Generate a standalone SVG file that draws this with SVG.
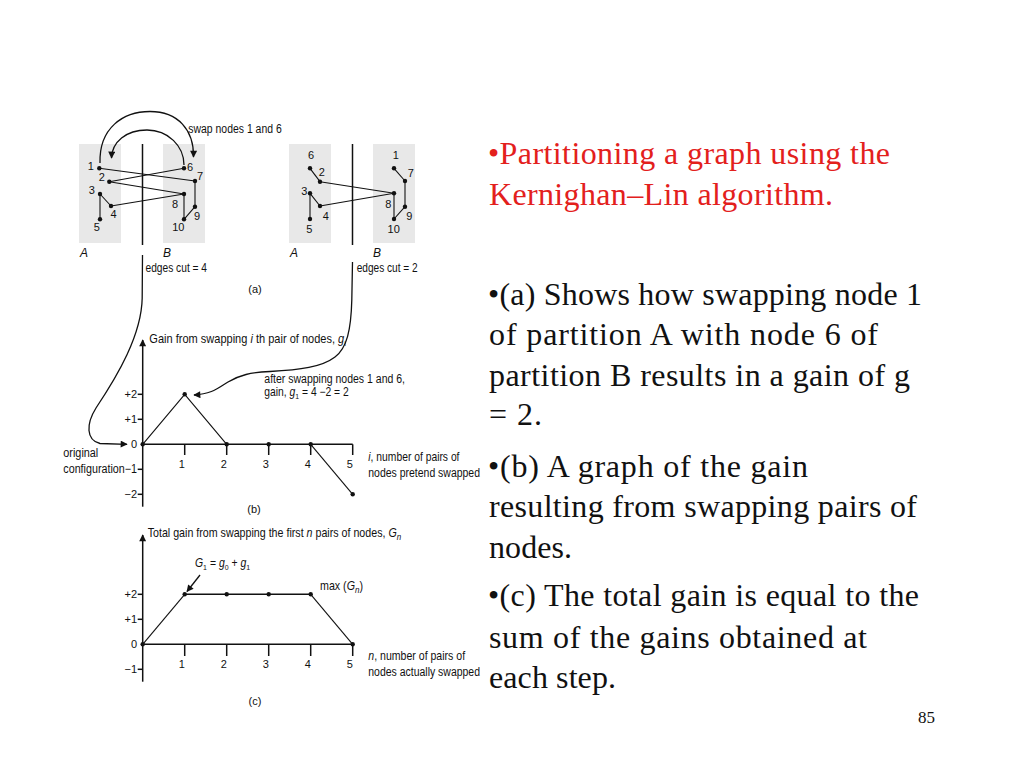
<svg xmlns="http://www.w3.org/2000/svg" width="1024" height="768" viewBox="0 0 1024 768">
<defs>
<style>
.lbl{font-family:"Liberation Sans",Arial,sans-serif;font-size:12px;fill:#111}
.num{font-family:"Liberation Sans",Arial,sans-serif;font-size:11px;fill:#111;text-anchor:middle}
.tk{font-family:"Liberation Sans",Arial,sans-serif;font-size:11px;fill:#111;text-anchor:end}
.ax{stroke:#111;stroke-width:1.5;fill:none}
.ln{stroke:#111;stroke-width:1.1;fill:none}
.cv{stroke:#111;stroke-width:1.3;fill:none}
.dot{fill:#111}
.part{fill:#e8e8e8}
.body{font-family:"Liberation Serif","Times New Roman",serif;font-size:32px;fill:#111}
.red{fill:#e3201c}
</style>
<marker id="ah" viewBox="0 0 10 10" refX="9" refY="5" markerWidth="9" markerHeight="7" orient="auto" markerUnits="userSpaceOnUse"><path d="M0,0 L10,5 L0,10 z" fill="#111"/></marker>
<marker id="ahL" viewBox="0 0 10 10" refX="9" refY="5" markerWidth="10" markerHeight="7" orient="auto" markerUnits="userSpaceOnUse"><path d="M0,0 L10,5 L0,10 z" fill="#111"/></marker>
</defs>
<rect width="1024" height="768" fill="#fff"/>

<!-- (a) partitions -->
<g id="partitions">
<rect class="part" x="79" y="144" width="42" height="99"/>
<rect class="part" x="163" y="144" width="42" height="99"/>
<rect class="part" x="289" y="144" width="42" height="99"/>
<rect class="part" x="373" y="144" width="42" height="99"/>
<line class="ax" x1="142.5" y1="144" x2="142.5" y2="245"/>
<line class="ax" x1="352.5" y1="144" x2="352.5" y2="245"/>
<text class="lbl" x="80" y="257" font-style="italic">A</text>
<text class="lbl" x="163" y="257" font-style="italic">B</text>
<text class="lbl" x="290" y="257" font-style="italic">A</text>
<text class="lbl" x="373" y="257" font-style="italic">B</text>
<text class="lbl" x="188.3" y="133" textLength="93.4" lengthAdjust="spacingAndGlyphs">swap nodes 1 and 6</text>
<text class="lbl" x="145.5" y="272" textLength="61.5" lengthAdjust="spacingAndGlyphs">edges cut = 4</text>
<text class="lbl" x="356.7" y="272" textLength="61" lengthAdjust="spacingAndGlyphs">edges cut = 2</text>
<text class="num" x="255" y="293">(a)</text>
</g>

<g id="connectors">
<!-- left graph edges -->
<line class="ln" x1="99.3" y1="168.3" x2="195" y2="181"/>
<line class="ln" x1="184" y1="168.3" x2="109.3" y2="181.7"/>
<line class="ln" x1="109.3" y1="181.7" x2="184" y2="194"/>
<line class="ln" x1="100" y1="194" x2="111" y2="206"/>
<line class="ln" x1="100" y1="194" x2="100" y2="219.3"/>
<line class="ln" x1="111" y1="206" x2="184" y2="194"/>
<line class="ln" x1="195" y1="181" x2="195" y2="206.7"/>
<line class="ln" x1="195" y1="206.7" x2="184" y2="219.3"/>
<line class="ln" x1="184" y1="194" x2="184" y2="219.3"/>
<!-- right graph edges -->
<line class="ln" x1="310" y1="168.3" x2="320" y2="181.7"/>
<line class="ln" x1="320" y1="181.7" x2="394" y2="193.3"/>
<line class="ln" x1="310" y1="193.3" x2="320" y2="206"/>
<line class="ln" x1="310" y1="193.3" x2="310" y2="219"/>
<line class="ln" x1="320" y1="206" x2="394" y2="193.3"/>
<line class="ln" x1="394" y1="168.3" x2="405" y2="181"/>
<line class="ln" x1="405" y1="181" x2="405" y2="206.7"/>
<line class="ln" x1="405" y1="206.7" x2="394" y2="219"/>
<line class="ln" x1="394" y1="193.3" x2="394" y2="219"/>
<!-- swap arcs -->
<path class="cv" d="M100,163 C99,128 123,111.5 150,111.5 C178,111.5 194,130 193.5,157" marker-end="url(#ahL)"/>
<path class="cv" d="M184,165 C184,146 168,130 147,130 C126,130 112,142 111.5,158" marker-end="url(#ahL)"/>
<!-- edges-cut callouts -->
<path class="cv" d="M142.5,255 L142.2,298 C141.5,335 118,375 96,408 C86,424 86,440 100,443.5 L127,444.3" marker-end="url(#ah)"/>
<path class="cv" d="M352.5,262 L351.8,300 C351,330 347,348 335,357 C322,367 300,370 270,371.5 C250,372.5 240,375 228,382 C218,388 212,394 194,395" marker-end="url(#ah)"/>
<!-- G1 arrow -->
<line class="cv" x1="200" y1="575" x2="187" y2="591.5" marker-end="url(#ah)"/>
</g>

<!-- left graph nodes -->
<g id="L1"><circle class="dot" cx="99.3" cy="168.3" r="2.2"/><text class="num" x="90.7" y="170">1</text></g>
<g id="L2"><circle class="dot" cx="109.3" cy="181.7" r="2.2"/><text class="num" x="101.7" y="180.5">2</text></g>
<g id="L3"><circle class="dot" cx="100" cy="194" r="2.2"/><text class="num" x="91.7" y="193.5">3</text></g>
<g id="L4"><circle class="dot" cx="111" cy="206" r="2.2"/><text class="num" x="113.5" y="218">4</text></g>
<g id="L5"><circle class="dot" cx="100" cy="219.3" r="2.2"/><text class="num" x="96.7" y="231">5</text></g>
<g id="L6"><circle class="dot" cx="184" cy="168.3" r="2.2"/><text class="num" x="190" y="171">6</text></g>
<g id="L7"><circle class="dot" cx="195" cy="181" r="2.2"/><text class="num" x="200" y="179.5">7</text></g>
<g id="L8"><circle class="dot" cx="184" cy="194" r="2.2"/><text class="num" x="175" y="208">8</text></g>
<g id="L9"><circle class="dot" cx="195" cy="206.7" r="2.2"/><text class="num" x="197" y="219.5">9</text></g>
<g id="L10"><circle class="dot" cx="184" cy="219.3" r="2.2"/><text class="num" x="178.3" y="231">10</text></g>

<!-- right graph nodes -->
<g id="R6"><circle class="dot" cx="310" cy="168.3" r="2.2"/><text class="num" x="311" y="159">6</text></g>
<g id="R2"><circle class="dot" cx="320" cy="181.7" r="2.2"/><text class="num" x="321.7" y="176">2</text></g>
<g id="R3"><circle class="dot" cx="310" cy="193.3" r="2.2"/><text class="num" x="304.3" y="195">3</text></g>
<g id="R4"><circle class="dot" cx="320" cy="206" r="2.2"/><text class="num" x="325.7" y="220">4</text></g>
<g id="R5"><circle class="dot" cx="310" cy="219" r="2.2"/><text class="num" x="309.3" y="233">5</text></g>
<g id="R1"><circle class="dot" cx="394" cy="168.3" r="2.2"/><text class="num" x="395.7" y="159">1</text></g>
<g id="R7"><circle class="dot" cx="405" cy="181" r="2.2"/><text class="num" x="410.7" y="176.5">7</text></g>
<g id="R8"><circle class="dot" cx="394" cy="193.3" r="2.2"/><text class="num" x="388.3" y="208">8</text></g>
<g id="R9"><circle class="dot" cx="405" cy="206.7" r="2.2"/><text class="num" x="409.3" y="220">9</text></g>
<g id="R10"><circle class="dot" cx="394" cy="219" r="2.2"/><text class="num" x="393.7" y="233">10</text></g>

<!-- (b) chart -->
<g id="chart-b">
<line class="ax" x1="142.7" y1="506.7" x2="142.7" y2="340" marker-end="url(#ah)"/>
<line class="ax" x1="142.7" y1="444.3" x2="352.7" y2="444.3"/>
<g class="ax">
<line x1="137.7" y1="394.3" x2="142.7" y2="394.3"/>
<line x1="137.7" y1="419.3" x2="142.7" y2="419.3"/>
<line x1="137.7" y1="469.3" x2="142.7" y2="469.3"/>
<line x1="137.7" y1="494.3" x2="142.7" y2="494.3"/>
<line x1="184.7" y1="444.3" x2="184.7" y2="455"/>
<line x1="226.7" y1="444.3" x2="226.7" y2="455"/>
<line x1="268.7" y1="444.3" x2="268.7" y2="455"/>
<line x1="310.7" y1="444.3" x2="310.7" y2="455"/>
<line x1="352.7" y1="444.3" x2="352.7" y2="455"/>
</g>
<polyline class="ln" points="142.7,444.3 184.7,394.3 226.7,444.3"/>
<line class="ln" x1="310.7" y1="444.3" x2="352.7" y2="494.3"/>
<circle class="dot" cx="142.7" cy="444.3" r="2.2"/>
<circle class="dot" cx="184.7" cy="394.3" r="2.2"/>
<circle class="dot" cx="226.7" cy="444.3" r="2.2"/>
<circle class="dot" cx="268.7" cy="444.3" r="2.2"/>
<circle class="dot" cx="310.7" cy="444.3" r="2.2"/>
<circle class="dot" cx="352.7" cy="494.3" r="2.2"/>
<g class="num">
<text x="181.7" y="468">1</text><text x="223.7" y="468">2</text><text x="265.7" y="468">3</text><text x="307.7" y="468">4</text><text x="349.7" y="468">5</text>
</g>
<g class="tk">
<text x="137" y="398">+2</text><text x="137" y="423">+1</text><text x="137" y="448">0</text><text x="137" y="498">−2</text>
</g>
<text class="lbl" x="63.3" y="457" textLength="35" lengthAdjust="spacingAndGlyphs">original</text>
<text class="lbl" x="63.3" y="473" textLength="73.7" lengthAdjust="spacingAndGlyphs">configuration−1</text>
<text class="lbl" transform="translate(149.3,343) scale(0.92,1)">Gain from swapping <tspan font-style="italic">i</tspan> th pair of nodes, <tspan font-style="italic">g</tspan><tspan font-size="8" dy="3">i</tspan></text>
<text class="lbl" x="264.3" y="383" textLength="140.7" lengthAdjust="spacingAndGlyphs">after swapping nodes 1 and 6,</text>
<text class="lbl" transform="translate(264.3,396) scale(0.86,1)">gain, <tspan font-style="italic">g</tspan><tspan font-size="8" dy="3">1</tspan><tspan dy="-3"> = 4 −2 = 2</tspan></text>
<text class="lbl" transform="translate(368.3,461) scale(0.86,1)"><tspan font-style="italic">i</tspan>, number of pairs of</text>
<text class="lbl" x="368.3" y="477" textLength="111.7" lengthAdjust="spacingAndGlyphs">nodes pretend swapped</text>
<text class="num" x="254" y="513">(b)</text>
</g>

<!-- (c) chart -->
<g id="chart-c">
<line class="ax" x1="142.7" y1="681.7" x2="142.7" y2="535" marker-end="url(#ah)"/>
<line class="ax" x1="142.7" y1="644.3" x2="352.7" y2="644.3"/>
<g class="ax">
<line x1="137.7" y1="594.3" x2="142.7" y2="594.3"/>
<line x1="137.7" y1="619.3" x2="142.7" y2="619.3"/>
<line x1="137.7" y1="669.3" x2="142.7" y2="669.3"/>
<line x1="184.7" y1="644.3" x2="184.7" y2="656"/>
<line x1="226.7" y1="644.3" x2="226.7" y2="656"/>
<line x1="268.7" y1="644.3" x2="268.7" y2="656"/>
<line x1="310.7" y1="644.3" x2="310.7" y2="656"/>
<line x1="352.7" y1="644.3" x2="352.7" y2="656"/>
</g>
<line class="ln" x1="142.7" y1="644.3" x2="184.7" y2="594.3"/>
<line class="ax" x1="184.7" y1="594.3" x2="310.7" y2="594.3"/>
<line class="ln" x1="310.7" y1="594.3" x2="352.7" y2="644.3"/>
<circle class="dot" cx="142.7" cy="644.3" r="2.2"/>
<circle class="dot" cx="184.7" cy="594.3" r="2.2"/>
<circle class="dot" cx="226.7" cy="594.3" r="2.2"/>
<circle class="dot" cx="268.7" cy="594.3" r="2.2"/>
<circle class="dot" cx="310.7" cy="594.3" r="2.2"/>
<circle class="dot" cx="352.7" cy="644.3" r="2.2"/>
<g class="num">
<text x="181.7" y="668">1</text><text x="223.7" y="668">2</text><text x="265.7" y="668">3</text><text x="307.7" y="668">4</text><text x="349.7" y="668">5</text>
</g>
<g class="tk">
<text x="137" y="598">+2</text><text x="137" y="623">+1</text><text x="137" y="648">0</text><text x="137" y="673">−1</text>
</g>
<text class="lbl" transform="translate(147.7,537) scale(0.89,1)">Total gain from swapping the first <tspan font-style="italic">n</tspan> pairs of nodes, <tspan font-style="italic">G</tspan><tspan font-style="italic" font-size="9" dy="3">n</tspan></text>
<text class="lbl" transform="translate(195,567) scale(0.87,1)"><tspan font-style="italic">G</tspan><tspan font-size="8" dy="3">1</tspan><tspan dy="-3"> = </tspan><tspan font-style="italic">g</tspan><tspan font-size="8" dy="3">0</tspan><tspan dy="-3"> + </tspan><tspan font-style="italic">g</tspan><tspan font-size="8" dy="3">1</tspan></text>
<text class="lbl" transform="translate(320,590) scale(0.89,1)">max (<tspan font-style="italic">G</tspan><tspan font-style="italic" font-size="9" dy="3">n</tspan><tspan dy="-3">)</tspan></text>
<text class="lbl" transform="translate(368.3,660) scale(0.88,1)"><tspan font-style="italic">n</tspan>, number of pairs of</text>
<text class="lbl" x="368.3" y="676" textLength="111.7" lengthAdjust="spacingAndGlyphs">nodes actually swapped</text>
<text class="num" x="255" y="705">(c)</text>
</g>

<!-- right-hand text -->
<g id="caption">
<text class="body red" x="488" y="164" textLength="402">•Partitioning a graph using the</text>
<text class="body red" x="489" y="205" textLength="344">Kernighan–Lin algorithm.</text>
<text class="body" x="488" y="305" textLength="434">•(a) Shows how swapping node 1</text>
<text class="body" x="489" y="345" textLength="389">of partition A with node 6 of</text>
<text class="body" x="489" y="386" textLength="421">partition B results in a gain of g</text>
<text class="body" x="489" y="425" textLength="53">= 2.</text>
<text class="body" x="488" y="477" textLength="320">•(b) A graph of the gain</text>
<text class="body" x="489" y="517" textLength="428">resulting from swapping pairs of</text>
<text class="body" x="489" y="558" textLength="83">nodes.</text>
<text class="body" x="488" y="606" textLength="431">•(c) The total gain is equal to the</text>
<text class="body" x="489" y="648" textLength="378">sum of the gains obtained at</text>
<text class="body" x="489" y="688" textLength="127">each step.</text>
<text x="918" y="723" style="font-family:'Liberation Serif',serif;font-size:17px;fill:#111">85</text>
</g>
</svg>
